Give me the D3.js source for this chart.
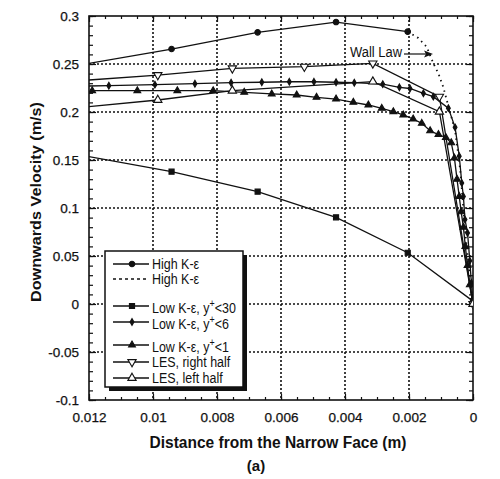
<!DOCTYPE html>
<html>
<head>
<meta charset="utf-8">
<script src="https://cdn.jsdelivr.net/npm/d3@7"></script>
<style>
  body { margin: 0; background: #fff; }
  svg { display: block; font-family: 'Liberation Sans', Arial, sans-serif; }
</style>
</head>
<body>
<svg width="500" height="479"></svg>
<script>
// distances (m) and velocities (m/s)
var highKeX = [0.0125, 0.00942, 0.00673, 0.00428, 0.00204]
var highKeY = [0.2478, 0.2656, 0.283, 0.2937, 0.2837]

var wallLawX = [0.00204, 0.00171, 0.00145, 0.00124, 0.00108, 0.00093, 0.00082, 0.00072, 0.00056, 0.0004, 0.00022, 0]
var wallLawY = [0.2837, 0.277, 0.268, 0.2507, 0.240, 0.226, 0.2125, 0.2, 0.181, 0.14, 0.067, 0]

var low30X = [0.0125, 0.00942, 0.00673, 0.00428, 0.00204, 0]
var low30Y = [0.1565, 0.1378, 0.117, 0.0903, 0.0534, 0.003]

var low6X = [0.0125, 0.01138, 0.00994, 0.00869, 0.00756, 0.0066, 0.00574, 0.00497, 0.00428, 0.00371, 0.00282, 0.0023, 0.00197, 0.00155, 0.00124, 0.00077, 0.00056, 0.00043, 0.00035, 0.0003, 0.00025, 0.00017, 0.0001, 0.00005, 0]
var low6Y = [0.2268, 0.2274, 0.2285, 0.2295, 0.2305, 0.231, 0.2315, 0.2315, 0.231, 0.2305, 0.229, 0.2257, 0.2245, 0.2195, 0.216, 0.204, 0.184, 0.154, 0.126, 0.112, 0.088, 0.074, 0.045, 0.022, 0]

var low1X = [0.0119, 0.01049, 0.00924, 0.00812, 0.00715, 0.00629, 0.00551, 0.00489, 0.00428, 0.00374, 0.00327, 0.00285, 0.00249, 0.00218, 0.00187, 0.0016, 0.00134, 0.00108, 0.00085, 0.00068, 0.00058, 0.0005, 0.00043, 0.00037, 0.0003, 0.00024, 0.00017, 0.0001, 0]
var low1Y = [0.2222, 0.2222, 0.2222, 0.2222, 0.2205, 0.2188, 0.2177, 0.2153, 0.2135, 0.2101, 0.2073, 0.2038, 0.2003, 0.1969, 0.1927, 0.1882, 0.1805, 0.1765, 0.1735, 0.168, 0.152, 0.13, 0.112, 0.096, 0.08, 0.06, 0.04, 0.02, 0]

var lesRightX = [0.0125, 0.00985, 0.00752, 0.00527, 0.00313, 0.00105, 0]
var lesRightY = [0.2321, 0.2385, 0.2455, 0.2472, 0.2507, 0.216, 0]

var lesLeftX = [0.0125, 0.00985, 0.00752, 0.00313, 0.00105, 0]
var lesLeftY = [0.2041, 0.2125, 0.2222, 0.2316, 0.2003, 0]

var xTicks = [0.012, 0.01, 0.008, 0.006, 0.004, 0.002, 0]
var yTicks = [-0.1, -0.05, 0, 0.05, 0.1, 0.15, 0.2, 0.25, 0.3]

var legendLabels = ['High K-ε', 'High K-ε', 'Low K-ε, y', 'Low K-ε, y', 'Low K-ε, y', 'LES, right half', 'LES, left half']
var legendSup = ['', '', '<30', '<6', '<1', '', '']

var svg = d3.select('svg')
var pLeft = 89, pRight = 473, pTop = 16, pBottom = 400
var ink = '#111'

var x = d3.scaleLinear().domain([0.012, 0]).range([pLeft, pRight])
var y = d3.scaleLinear().domain([-0.1, 0.3]).range([pBottom, pTop])
var fmt = d => String(+d.toFixed(4))

svg.append('rect').attr('width', 500).attr('height', 479).attr('fill', '#fff')

svg.append('defs').append('clipPath').attr('id', 'plot')
  .append('rect').attr('x', pLeft).attr('y', pTop)
  .attr('width', pRight - pLeft).attr('height', pBottom - pTop)

// dotted grid
var grid = svg.append('g').attr('stroke', ink).attr('stroke-width', 1.6).attr('stroke-dasharray', '2,2')
grid.selectAll('.gx').data(xTicks.slice(1, -1)).enter().append('line')
  .attr('x1', d => x(d)).attr('x2', d => x(d)).attr('y1', pTop).attr('y2', pBottom)
grid.selectAll('.gy').data(yTicks.slice(1, -1)).enter().append('line')
  .attr('y1', d => y(d)).attr('y2', d => y(d)).attr('x1', pLeft).attr('x2', pRight)

// ticks (inward) on all four sides
var minorX = d3.range(0, 0.01201, 0.0005)
var minorY = d3.range(-0.1, 0.3001, 0.01)
var tickAxis = function(g, axis) {
  g.call(axis)
  g.select('.domain').remove()
  g.selectAll('line').attr('stroke', ink).attr('stroke-width', 1.2)
}
svg.append('g').attr('transform', `translate(0,${pBottom})`)
  .call(g => tickAxis(g, d3.axisBottom(x).tickValues(minorX).tickSize(-3).tickFormat('')))
svg.append('g').attr('transform', `translate(0,${pTop})`)
  .call(g => tickAxis(g, d3.axisTop(x).tickValues(minorX).tickSize(-3).tickFormat('')))
svg.append('g').attr('transform', `translate(${pLeft},0)`)
  .call(g => tickAxis(g, d3.axisLeft(y).tickValues(minorY).tickSize(-4).tickFormat('')))
svg.append('g').attr('transform', `translate(${pRight},0)`)
  .call(g => tickAxis(g, d3.axisRight(y).tickValues(minorY).tickSize(-4).tickFormat('')))
svg.append('g').attr('transform', `translate(0,${pTop})`)
  .call(g => tickAxis(g, d3.axisTop(x).tickValues(xTicks).tickSize(-6).tickFormat('')))
svg.append('g').attr('transform', `translate(${pRight},0)`)
  .call(g => tickAxis(g, d3.axisRight(y).tickValues(yTicks).tickSize(-7).tickFormat('')))

var xAxis = svg.append('g').attr('transform', `translate(0,${pBottom})`)
  .call(d3.axisBottom(x).tickValues(xTicks).tickSize(-6).tickPadding(12).tickFormat(fmt))
var yAxis = svg.append('g').attr('transform', `translate(${pLeft},0)`)
  .call(d3.axisLeft(y).tickValues(yTicks).tickSize(-7).tickPadding(10).tickFormat(fmt))
;[xAxis, yAxis].forEach(g => {
  g.select('.domain').remove()
  g.selectAll('line').attr('stroke', ink).attr('stroke-width', 1.2)
  g.selectAll('text').attr('font-size', 13.5).attr('fill', ink)
    .attr('stroke', ink).attr('stroke-width', 0.25)
    .attr('font-family', "'Liberation Sans', Arial, sans-serif")
})

// frame
svg.append('rect').attr('x', pLeft).attr('y', pTop)
  .attr('width', pRight - pLeft).attr('height', pBottom - pTop)
  .attr('fill', 'none').attr('stroke', ink).attr('stroke-width', 1.6)

// series
var series = [
  {xs: highKeX, ys: highKeY, sym: d3.symbolCircle, size: 24, fill: ink},
  {xs: wallLawX, ys: wallLawY, dash: '1.5,4', sym: null},
  {xs: low30X, ys: low30Y, sym: d3.symbolSquare, size: 26, fill: ink},
  {xs: low6X, ys: low6Y, sym: d3.symbolDiamond, size: 13, fill: ink},
  {xs: low1X, ys: low1Y, sym: d3.symbolTriangle, size: 20, fill: ink},
  {xs: lesRightX, ys: lesRightY, sym: d3.symbolTriangle, size: 30, fill: '#fff', rot: 180},
  {xs: lesLeftX, ys: lesLeftY, sym: d3.symbolTriangle, size: 30, fill: '#fff', rot: 0}
]

var line = d3.line().x(d => x(d[0])).y(d => y(d[1]))
var plot = svg.append('g').attr('clip-path', 'url(#plot)')

series.forEach(s => {
  var pts = d3.zip(s.xs, s.ys)
  plot.append('path').datum(pts)
    .attr('d', line).attr('fill', 'none').attr('stroke', ink)
    .attr('stroke-width', s.dash ? 1.8 : 1.3)
    .attr('stroke-dasharray', s.dash || null)
  if (s.sym) {
    plot.selectAll(null).data(pts).enter().append('path')
      .attr('d', d3.symbol().type(s.sym).size(s.size))
      .attr('transform', d => `translate(${x(d[0])},${y(d[1])}) rotate(${s.rot || 0})`)
      .attr('fill', s.fill).attr('stroke', ink).attr('stroke-width', 1.1)
  }
})

// wall law annotation
svg.append('text').attr('x', 350).attr('y', 56.5).attr('font-size', 14).attr('fill', ink)
  .attr('textLength', 52).attr('lengthAdjust', 'spacingAndGlyphs').text('Wall Law')
svg.append('line').attr('x1', 404).attr('x2', 426).attr('y1', 54).attr('y2', 54)
  .attr('stroke', ink).attr('stroke-width', 1.2)
svg.append('path').attr('d', 'M433,54 L424,50.5 L426,54 L424,57.5 Z').attr('fill', ink)

// legend
var lg = svg.append('g')
lg.append('rect').attr('x', 109).attr('y', 255).attr('width', 138).attr('height', 136).attr('fill', ink)
lg.append('rect').attr('x', 105).attr('y', 251).attr('width', 138).attr('height', 136)
  .attr('fill', '#fff').attr('stroke', ink).attr('stroke-width', 1.5)
var legendY = [264, 279, 306, 322, 345, 362, 378]
series.forEach((s, i) => {
  var ly = legendY[i]
  lg.append('line').attr('x1', 113).attr('x2', 149).attr('y1', ly).attr('y2', ly)
    .attr('stroke', ink).attr('stroke-width', s.dash ? 1.6 : 1.3)
    .attr('stroke-dasharray', s.dash ? '3,3' : null)
  if (s.sym) {
    lg.append('path').attr('d', d3.symbol().type(s.sym).size(s.size))
      .attr('transform', `translate(132,${ly}) rotate(${s.rot || 0})`)
      .attr('fill', s.fill).attr('stroke', ink).attr('stroke-width', 1.1)
  }
  var t = lg.append('text')
    .attr('transform', `translate(152,${ly + 5 + (legendSup[i] ? 1.5 : 0)}) scale(0.89,1)`)
    .attr('font-size', 14).attr('fill', ink).text(legendLabels[i])
  if (legendSup[i]) {
    t.append('tspan').attr('dy', -6).attr('font-size', 10).text('+')
    t.append('tspan').attr('dy', 6).text(legendSup[i])
  }
})

// titles
svg.append('text').attr('transform', 'translate(41,202) rotate(-90)')
  .attr('text-anchor', 'middle').attr('font-size', 15).attr('font-weight', 'bold').attr('fill', ink)
  .attr('textLength', 200).attr('lengthAdjust', 'spacingAndGlyphs')
  .text('Downwards Velocity (m/s)')
svg.append('text').attr('x', 278).attr('y', 448)
  .attr('text-anchor', 'middle').attr('font-size', 16).attr('font-weight', 'bold').attr('fill', ink)
  .attr('textLength', 257).attr('lengthAdjust', 'spacingAndGlyphs')
  .text('Distance from the Narrow Face (m)')
svg.append('text').attr('x', 256).attr('y', 471)
  .attr('text-anchor', 'middle').attr('font-size', 15).attr('font-weight', 'bold').attr('fill', ink)
  .text('(a)')
</script>
</body>
</html>
